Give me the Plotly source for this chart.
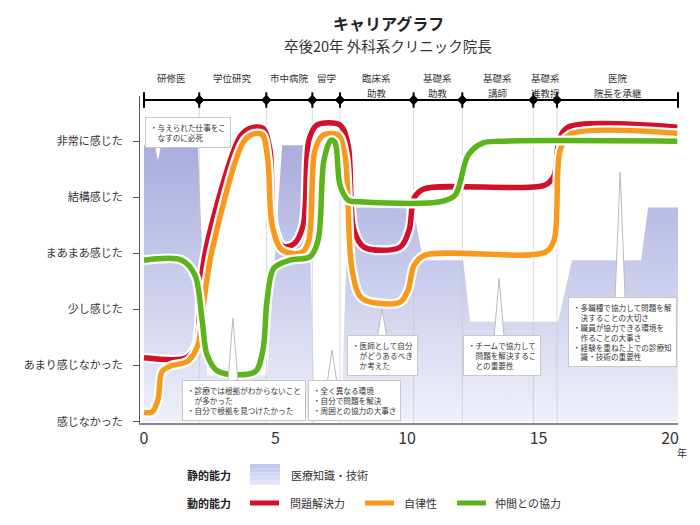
import plotly.graph_objects as go

FONT = "Noto Sans CJK JP"

# y axis: 0..5 levels
level_labels = ["感じなかった", "あまり感じなかった", "少し感じた", "まあまあ感じた", "結構感じた", "非常に感じた"]
year_ticks = [0, 5, 10, 15, 20]

# career stages (years from graduation)
stage_names = ["研修医", "学位研究", "市中病院", "留学", "臨床系<br>助教", "基礎系<br>助教",
               "基礎系<br>講師", "基礎系<br>准教授", "医院<br>院長を承継"]
stage_bounds = [0, 2.1, 4.65, 6.4, 7.45, 10.25, 12.1, 14.8, 15.7, 20.3]

# static ability: 医療知識・技術
knowledge_x = [0, 2.05, 2.4, 4.68, 5.25, 6.2, 6.5, 7.49, 7.76, 10.23, 10.61, 12.13, 12.4, 15.74, 16.27, 18.9, 19.16, 20.3]
knowledge_y = [4.93, 4.93, 0.83, 0.83, 4.93, 4.93, 0, 0, 3.82, 3.82, 2.88, 2.88, 1.78, 1.78, 2.88, 2.88, 3.82, 3.82]

# dynamic abilities
problem_x = [0, 1.6, 1.98, 2.17, 2.43, 3.65, 4.03, 4.52, 4.79, 4.94, 5.29, 5.7, 6.05, 6.27, 6.58, 7.45, 7.76,
             7.98, 8.37, 9.73, 10.08, 10.27, 10.65, 15.25, 15.59, 15.78, 16.12, 20.27]
problem_y = [1.14, 1.14, 1.37, 2.52, 3.24, 5.08, 5.23, 5.23, 4.84, 3.5, 3.13, 3.17, 3.5, 5.02, 5.29, 5.29, 4.93,
             3.42, 3.11, 3.11, 3.42, 3.99, 4.15, 4.22, 4.39, 5.02, 5.25, 5.25]

autonomy_x = [0, 0.3, 0.53, 0.68, 0.99, 1.67, 2.05, 2.28, 2.59, 3.76, 4.11, 4.49, 4.71, 4.87, 5.25, 6.01, 6.27,
              6.5, 6.81, 7.38, 7.64, 7.91, 8.29, 9.73, 10.04, 10.27, 10.68, 15.25, 15.59, 15.82, 16.2, 20.27]
autonomy_y = [0.17, 0.17, 0.39, 0.89, 0.99, 1.08, 1.37, 2.17, 3.06, 4.97, 5.12, 5.12, 4.66, 3.51, 3.06, 3.02, 3.24,
              4.84, 5.11, 5.11, 4.75, 2.71, 2.2, 2.13, 2.35, 2.79, 2.97, 3.02, 3.24, 4.84, 5.12, 5.14]

teamwork_x = [0, 1.44, 1.94, 2.21, 2.4, 2.81, 4.22, 4.52, 4.68, 4.94, 5.55, 6.31, 6.62, 6.84, 7.11, 7.26, 7.45,
              7.76, 8.21, 11.25, 11.83, 12.32, 12.89, 13.54, 20.27]
teamwork_y = [2.88, 2.88, 2.61, 1.81, 1.19, 0.9, 0.89, 1.28, 2.17, 2.74, 2.88, 2.94, 3.24, 4.66, 5.02, 4.98, 4.22,
              3.95, 3.92, 3.92, 4.04, 4.75, 4.97, 5.0, 5.0]

series = [
    ("問題解決力", problem_x, problem_y, "#d40f2a"),
    ("自律性", autonomy_x, autonomy_y, "#f8991d"),
    ("仲間との協力", teamwork_x, teamwork_y, "#5cb31c"),
]

notes = [
    dict(x=0.04, y=5.43, text="・与えられた仕事をこ<br>　なすのに必死", base=5.1, tip=(0.53, 4.61)),
    dict(x=1.44, y=0.74, text="・診療では根拠がわからないこと<br>　が多かった<br>・自分で根拠を見つけたかった",
         base=0.65, tip=(3.38, 1.85)),
    dict(x=6.24, y=0.74, text="・全く異なる環境<br>・自分で問題を解決<br>・周囲との協力の大事さ",
         base=0.65, tip=(7.15, 1.28)),
    dict(x=7.72, y=1.55, text="・医師として自分<br>　がどうあるべき<br>　か考えた", base=1.45, tip=(9.05, 2.01)),
    dict(x=12.13, y=1.55, text="・チームで協力して<br>　問題を解決するこ<br>　との重要性", base=1.45, tip=(13.5, 2.56)),
    dict(x=16.12, y=2.22, text="・多職種で協力して問題を解<br>　決することの大切さ<br>・職員が協力できる環境を<br>"
                               "　作ることの大事さ<br>・経験を重ねた上での診療知<br>　識・技術の重要性",
         base=2.1, tip=(18.1, 4.45)),
]

Y_TOP = 5.806
Y_BAR = 5.734
# plot box in reference pixels; the page body adds an 8px margin
PLOT_L, PLOT_R, PLOT_T, PLOT_B = 140, 678, 96, 423
OFF = 8
W, H = 700 - OFF, 525 - OFF


def px_x(p):
    return (p - PLOT_L) / (PLOT_R - PLOT_L)


def px_y(p):
    return (PLOT_B - p) / (PLOT_B - PLOT_T)


fig = go.Figure()

# area
fig.add_trace(go.Scatter(
    x=knowledge_x, y=knowledge_y, mode="lines", line=dict(width=0), fill="tozeroy",
    fillgradient=dict(type="vertical", colorscale=[[0, "#eef0fa"], [1, "#a8abdd"]], start=0, stop=5),
    hoverinfo="skip", showlegend=False))

# stage separators
gx, gy = [], []
for b in stage_bounds[1:-1]:
    gx += [b, b, None]
    gy += [-0.02, Y_BAR, None]
fig.add_trace(go.Scatter(x=gx, y=gy, mode="lines", line=dict(color="rgba(200,200,200,0.7)", width=1),
                         hoverinfo="skip", showlegend=False))

# curves with white halo
for name, xs, ys, col in series:
    fig.add_trace(go.Scatter(x=xs, y=ys, mode="lines", line=dict(color="white", width=10, shape="spline", smoothing=0.9),
                             hoverinfo="skip", showlegend=False))
    fig.add_trace(go.Scatter(x=xs, y=ys, mode="lines", name=name,
                             line=dict(color=col, width=5.5, shape="spline", smoothing=0.9), showlegend=False))

# stage bar
fig.add_trace(go.Scatter(x=[stage_bounds[0], stage_bounds[-1]], y=[Y_BAR, Y_BAR], mode="lines",
                         line=dict(color="black", width=2), cliponaxis=False, hoverinfo="skip", showlegend=False))
fig.add_trace(go.Scatter(x=stage_bounds, y=[Y_BAR] * len(stage_bounds), mode="markers", cliponaxis=False,
                         marker=dict(symbol="line-ns-open", size=11, color="black", line=dict(color="black", width=2)),
                         hoverinfo="skip", showlegend=False))
fig.add_trace(go.Scatter(x=stage_bounds[1:-1], y=[Y_BAR] * (len(stage_bounds) - 2), mode="markers", cliponaxis=False,
                         marker=dict(symbol="diamond", size=8, color="black"),
                         hoverinfo="skip", showlegend=False))

annos = []
for i, name in enumerate(stage_names):
    mid = (stage_bounds[i] + stage_bounds[i + 1]) / 2
    for j, part in enumerate(name.split("<br>")):
        annos.append(dict(x=mid, y=px_y(78 + 14.5 * j), xref="x", yref="paper", text=part, showarrow=False,
                          yanchor="middle", borderpad=0, font=dict(size=9.5, color="#333", family=FONT)))

shapes = []
for n in notes:
    tx, ty = n["tip"]
    shapes.append(dict(type="path", xref="x", yref="y", layer="above",
                       path=f"M {tx - 0.2},{n['base']} L {tx},{ty} L {tx + 0.2},{n['base']} Z",
                       fillcolor="white", line=dict(color="#bbbbbb", width=1)))
    annos.append(dict(x=n["x"], y=n["y"], xref="x", yref="y", text=n["text"], showarrow=False,
                      xanchor="left", yanchor="top", align="left", bgcolor="white",
                      bordercolor="#c8c8c8", borderwidth=1, borderpad=4,
                      font=dict(size=7.6, color="#333", family=FONT)))

# title
annos.append(dict(x=px_x(388), y=px_y(23), xref="paper", yref="paper", text="<b>キャリアグラフ</b>",
                  showarrow=False, yanchor="middle", font=dict(size=16, color="#222", family=FONT)))
annos.append(dict(x=px_x(388), y=px_y(45), xref="paper", yref="paper", text="卒後20年 外科系クリニック院長",
                  showarrow=False, yanchor="middle", font=dict(size=14.5, color="#333", family=FONT)))
annos.append(dict(x=px_x(689), y=px_y(453), xref="paper", yref="paper", text="年",
                  showarrow=False, yanchor="middle", font=dict(size=10, color="#333", family=FONT)))

# custom legend
annos.append(dict(x=px_x(185), y=px_y(475), xref="paper", yref="paper", text="<b>静的能力</b>", xanchor="left",
                  yanchor="middle", showarrow=False, font=dict(size=11, color="#222", family=FONT)))
annos.append(dict(x=px_x(185), y=px_y(503), xref="paper", yref="paper", text="<b>動的能力</b>", xanchor="left",
                  yanchor="middle", showarrow=False, font=dict(size=11, color="#222", family=FONT)))
annos.append(dict(x=px_x(289), y=px_y(475), xref="paper", yref="paper", text="医療知識・技術", xanchor="left",
                  yanchor="middle", showarrow=False, font=dict(size=11, color="#333", family=FONT)))
swatch = ["#c3c6ef", "#cbcdf1", "#d3d5f3", "#dbdcf5", "#e3e4f7"]
for k, c in enumerate(swatch):
    shapes.append(dict(type="rect", xref="paper", yref="paper", x0=px_x(250), x1=px_x(280),
                       y0=px_y(464 + 21 * (k + 1) / 5), y1=px_y(464 + 21 * k / 5),
                       fillcolor=c, line=dict(width=0)))
leg_x = [(250, 288), (365, 402), (457, 493)]
for (name, xs, ys, col), (lx, tx) in zip(series, leg_x):
    shapes.append(dict(type="line", xref="paper", yref="paper", x0=px_x(lx), x1=px_x(lx + 29),
                       y0=px_y(503), y1=px_y(503), line=dict(color=col, width=5)))
    annos.append(dict(x=px_x(tx), y=px_y(503), xref="paper", yref="paper", text=name, xanchor="left",
                      yanchor="middle", showarrow=False, font=dict(size=11, color="#333", family=FONT)))

fig.update_layout(
    width=W, height=H,
    margin=dict(l=PLOT_L - OFF, r=700 - PLOT_R, t=PLOT_T - OFF, b=525 - PLOT_B),
    paper_bgcolor="white", plot_bgcolor="white",
    font=dict(family=FONT, color="#333"),
    showlegend=False,
    annotations=annos, shapes=shapes,
    xaxis=dict(range=[-0.152, 20.3], tickvals=year_ticks, ticks="", showgrid=False, zeroline=False,
               showline=True, linecolor="#888", linewidth=1.5, tickfont=dict(size=16, color="#333")),
    yaxis=dict(range=[-0.023, Y_TOP], tickvals=list(range(6)), ticktext=level_labels, ticks="outside",
               ticklen=6, tickcolor="#555", showgrid=False, zeroline=False, showline=True,
               linecolor="#555", linewidth=1, tickfont=dict(size=11, color="#333"), ticklabelstandoff=8),
)

fig.write_html("out.html")
